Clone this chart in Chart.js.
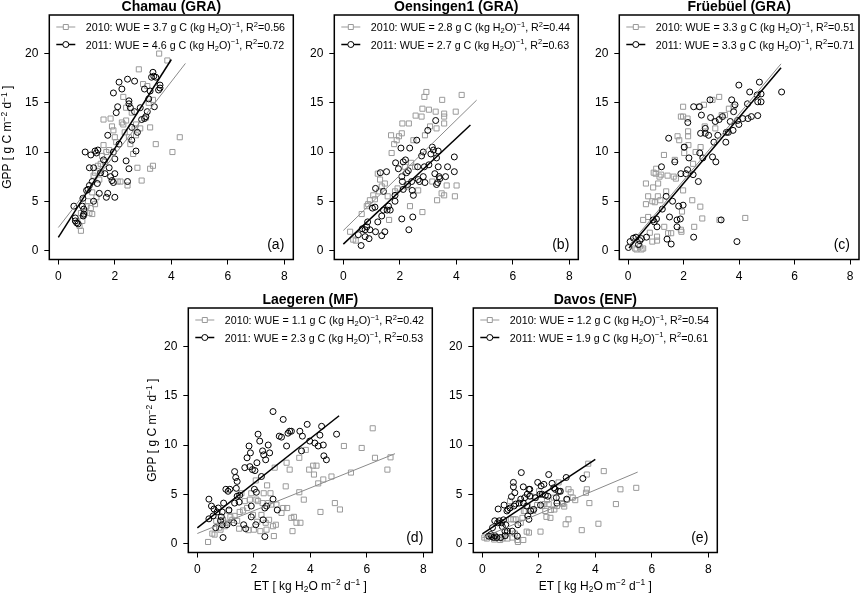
<!DOCTYPE html>
<html>
<head>
<meta charset="utf-8">
<script src="https://cdn.jsdelivr.net/npm/chart.js@4.4.0/dist/chart.umd.min.js"></script>
<style>
  body { margin: 0; background: #fff; width: 864px; height: 595px; position: relative; overflow: hidden; }
  canvas { position: absolute; }
</style>
</head>
<body>
<canvas id="p0"></canvas>
<canvas id="p1"></canvas>
<canvas id="p2"></canvas>
<canvas id="p3"></canvas>
<canvas id="p4"></canvas>
<script>
const FONT = '"Liberation Sans", Arial, Helvetica, sans-serif';

// axes
const xTicks = [0, 2, 4, 6, 8];
const yTicks = [0, 5, 10, 15, 20];

// panel labels and regression stats
const sites = ["Chamau (GRA)", "Oensingen1 (GRA)", "Früebüel (GRA)", "Laegeren (MF)", "Davos (ENF)"];
const letters = ["(a)", "(b)", "(c)", "(d)", "(e)"];
const wue2010 = ["3.7", "2.8", "3.3", "1.1", "1.2"];
const wue2011 = ["4.6", "2.7", "3.3", "2.3", "1.9"];
const r2010 = ["0.56", "0.44", "0.51", "0.42", "0.54"];
const r2011 = ["0.72", "0.63", "0.71", "0.53", "0.61"];

// fitted lines: [ET start, GPP start, ET end, GPP end]
const fit2010 = [[0, 2.33, 4.5, 19.0], [0, 2.03, 4.72, 15.27], [0.03, 0.5, 5.51, 18.96], [0, 1.01, 7.0, 9.12], [0, 0.58, 5.5, 7.25]];
const fit2011 = [[0, 1.32, 4.0, 19.4], [0, 0.64, 4.5, 12.74], [0.03, 0.25, 5.51, 18.55], [0, 1.59, 5.02, 12.97], [0, 0.98, 4.0, 8.54]];

// daily ET / GPP pairs
const chamau2010 = [[0.8,2.0],[0.75,2.5],[0.85,3.0],[0.8,3.8],[0.9,3.6],[0.95,3.9],[1.0,4.5],[1.05,5.0],[1.1,3.8],[1.15,4.3],[1.2,3.7],[1.2,5.9],[1.25,7.6],[1.3,7.9],[1.3,4.7],[1.35,5.4],[1.4,8.6],[1.45,7.2],[1.5,8.8],[1.55,9.6],[1.6,10.7],[1.6,13.3],[1.65,9.0],[1.7,10.0],[1.8,10.2],[1.85,13.4],[1.9,12.6],[1.95,12.2],[2.0,11.5],[2.05,11.0],[2.1,7.0],[2.2,7.0],[2.25,13.0],[2.3,15.6],[2.3,12.8],[2.35,12.0],[2.4,14.5],[2.4,13.2],[2.45,6.6],[2.5,11.5],[2.55,10.8],[2.6,14.0],[2.65,9.8],[2.7,12.4],[2.75,12.8],[2.75,11.7],[2.8,8.4],[2.85,18.4],[2.9,12.4],[2.95,7.1],[3.0,16.9],[3.1,13.5],[3.15,16.7],[3.2,15.0],[3.25,12.5],[3.25,8.3],[3.35,8.6],[3.35,15.3],[3.45,10.8],[3.57,20.0],[3.86,19.3],[4.04,10.0],[4.3,11.5]];
const chamau2011 = [[0.55,4.5],[0.6,3.0],[0.65,2.8],[0.6,3.3],[0.7,2.7],[0.85,4.5],[0.9,4.2],[0.9,3.7],[0.88,3.5],[0.87,5.3],[0.95,10.0],[1.05,6.2],[1.0,6.1],[1.1,6.6],[1.1,8.4],[1.15,9.7],[1.2,7.0],[1.25,5.0],[1.25,8.4],[1.3,10.1],[1.35,9.9],[1.4,10.2],[1.38,6.8],[1.45,5.8],[1.5,7.9],[1.6,9.2],[1.65,7.8],[1.7,5.4],[1.75,11.7],[1.75,5.8],[1.8,8.4],[1.85,7.5],[1.9,7.1],[1.95,6.9],[1.95,10.0],[2.0,7.8],[2.0,9.3],[1.95,16.0],[2.0,5.4],[2.1,14.6],[2.05,14.0],[2.15,10.8],[2.15,17.1],[2.25,16.4],[2.4,9.1],[2.5,8.3],[2.45,7.0],[2.45,17.4],[2.5,15.2],[2.5,14.9],[2.55,14.5],[2.6,12.5],[2.6,11.2],[2.7,17.2],[2.7,14.1],[2.75,10.1],[2.8,12.0],[2.9,14.5],[2.95,13.3],[3.05,16.4],[3.05,13.4],[3.1,13.6],[3.15,14.1],[3.2,15.4],[3.25,16.2],[3.3,17.6],[3.35,18.1],[3.38,17.7],[3.4,14.6],[3.45,17.6],[3.55,16.3],[3.6,16.8],[3.6,16.5]];

const oens2010 = [[0.24,1.9],[0.35,1.1],[0.44,1.0],[0.65,3.7],[0.83,4.5],[0.88,4.7],[0.94,5.1],[1.06,5.6],[1.12,5.2],[1.22,7.8],[1.3,7.2],[1.27,6.0],[1.36,6.5],[1.47,6.8],[1.57,5.5],[1.62,3.1],[1.69,11.7],[1.71,9.9],[1.8,10.8],[1.83,6.0],[1.89,11.2],[1.92,6.3],[1.97,11.6],[2.07,11.9],[2.09,12.9],[2.18,8.5],[2.24,6.5],[2.32,12.9],[2.36,4.5],[2.4,8.9],[2.48,11.2],[2.56,13.7],[2.54,8.5],[2.65,6.1],[2.77,13.6],[2.8,14.4],[2.87,15.6],[2.8,3.9],[2.89,11.7],[2.94,16.1],[3.03,14.3],[3.07,12.6],[3.15,7.0],[3.27,14.1],[3.3,12.4],[3.32,5.1],[3.48,5.8],[3.5,15.3],[3.57,13.9],[3.57,13.6],[3.57,12.9],[3.57,5.6],[3.66,6.6],[3.98,14.1],[3.95,5.5],[4.01,6.6],[4.19,15.8]];
const oens2011 = [[0.63,0.5],[0.53,1.6],[0.67,2.2],[0.77,2.1],[0.83,2.4],[0.86,2.9],[0.94,2.1],[0.91,1.2],[0.77,1.4],[1.03,4.3],[1.12,4.4],[1.14,6.3],[1.22,2.9],[1.14,1.9],[1.36,1.5],[1.47,1.9],[1.36,3.5],[1.42,4.1],[1.55,4.1],[1.6,4.5],[1.66,4.1],[1.31,7.9],[1.53,8.0],[1.42,6.0],[1.83,5.6],[1.83,5.0],[1.85,8.9],[1.95,8.3],[2.04,10.4],[2.07,7.5],[2.09,7.0],[2.12,6.2],[2.07,3.2],[2.12,9.0],[2.2,9.2],[2.24,7.9],[2.28,6.7],[2.3,8.1],[2.35,10.4],[2.32,2.1],[2.42,7.0],[2.44,6.1],[2.46,3.4],[2.48,5.6],[2.6,11.2],[2.63,8.5],[2.65,7.2],[2.7,7.0],[2.77,9.6],[2.83,10.0],[2.87,8.5],[2.83,7.5],[2.89,6.9],[2.99,12.2],[3.03,8.7],[3.1,9.8],[3.15,10.5],[3.19,10.2],[3.24,7.8],[3.27,13.2],[3.3,9.4],[3.34,6.9],[3.36,8.5],[3.39,7.5],[3.42,7.3],[3.36,10.1],[3.69,8.5],[3.62,7.5],[3.93,9.5],[3.93,8.0],[3.3,6.7]];

const frue2010 = [[0.25,0.2],[0.3,0.1],[0.42,0.4],[0.48,0.1],[0.54,0.2],[0.54,3.1],[0.64,4.7],[0.64,6.8],[0.72,5.5],[0.72,3.4],[0.78,1.8],[0.87,0.9],[0.87,5.0],[0.9,6.4],[0.92,7.9],[0.96,4.9],[0.99,7.8],[1.01,8.3],[1.04,1.4],[1.04,1.0],[1.07,5.5],[1.08,6.8],[1.13,7.5],[1.16,5.1],[1.19,7.7],[1.29,9.7],[1.3,2.4],[1.37,6.0],[1.42,7.6],[1.44,1.75],[1.55,1.75],[1.64,7.5],[1.68,9.2],[1.72,7.3],[1.78,11.6],[1.84,11.2],[1.9,13.6],[1.9,2.1],[1.92,1.9],[1.94,3.95],[1.98,13.6],[1.98,14.6],[1.98,6.1],[2.02,10.5],[2.02,9.9],[2.14,13.4],[2.16,12.1],[2.16,11.6],[2.17,10.7],[2.31,5.1],[2.34,8.8],[2.38,2.4],[2.43,10.0],[2.55,14.6],[2.6,4.45],[2.61,10.5],[2.67,3.25],[2.73,14.8],[2.76,12.6],[3.04,15.3],[3.14,12.4],[3.28,15.6],[3.29,3.1],[3.37,13.75],[3.49,13.75],[3.63,14.4],[3.8,14.6],[4.22,3.3]];
const frue2011 = [[0.01,0.3],[0.07,0.9],[0.19,1.25],[0.28,1.35],[0.37,0.6],[0.42,1.0],[0.48,1.2],[0.66,1.35],[0.9,3.1],[0.94,2.9],[1.04,2.4],[1.02,3.2],[1.2,8.5],[1.23,4.2],[1.37,5.5],[1.4,1.15],[1.46,11.4],[1.49,3.4],[1.55,0.65],[1.6,5.0],[1.68,9.0],[1.76,2.4],[1.76,3.1],[1.82,4.5],[1.88,3.2],[1.9,7.8],[1.98,4.6],[2.02,10.5],[2.08,7.8],[2.14,8.2],[2.15,13.0],[2.19,9.4],[2.34,7.7],[2.36,14.6],[2.36,1.35],[2.53,7.0],[2.57,14.6],[2.58,9.9],[2.61,11.9],[2.64,13.75],[2.69,9.4],[2.78,12.4],[2.78,11.9],[2.9,11.7],[2.95,15.3],[2.97,13.5],[3.04,9.5],[3.09,11.0],[3.14,13.1],[3.16,9.0],[3.23,11.7],[3.28,13.3],[3.35,3.1],[3.4,13.6],[3.52,11.0],[3.54,12.0],[3.61,12.0],[3.68,13.1],[3.73,15.3],[3.78,12.2],[3.8,14.1],[3.85,14.8],[3.92,0.9],[3.94,13.2],[3.99,16.8],[3.99,12.8],[4.13,13.4],[4.32,13.4],[4.3,14.9],[4.38,16.1],[4.44,13.6],[4.65,15.8],[4.67,13.7],[4.67,15.1],[4.73,17.1],[4.79,15.1],[4.79,15.9],[5.53,16.1]];

const laeg2010 = [[0.38,0.15],[0.53,1.0],[0.61,0.9],[0.67,2.3],[0.77,1.6],[0.82,1.4],[0.91,2.4],[0.97,1.75],[1.03,2.1],[1.12,3.3],[1.17,2.7],[1.24,2.4],[1.32,2.8],[1.41,2.3],[1.48,1.5],[1.5,3.2],[1.56,5.1],[1.62,3.35],[1.68,4.3],[1.76,3.6],[1.81,1.35],[1.86,4.45],[1.91,5.1],[1.97,2.9],[2.0,1.4],[2.07,6.4],[2.09,4.45],[2.12,2.2],[2.15,4.3],[2.23,1.25],[2.27,2.9],[2.31,4.1],[2.35,5.1],[2.42,2.1],[2.45,1.4],[2.47,5.9],[2.51,4.1],[2.54,2.4],[2.59,5.1],[2.62,3.95],[2.68,1.75],[2.71,0.75],[2.74,7.7],[2.78,1.9],[2.8,3.95],[2.98,3.1],[3.04,3.6],[3.13,5.8],[3.16,8.2],[3.18,3.6],[3.27,7.5],[3.33,2.6],[3.37,1.25],[3.42,2.7],[3.51,2.1],[3.61,5.2],[3.61,8.7],[3.65,2.1],[3.77,4.45],[3.84,9.5],[3.96,7.5],[4.1,7.9],[4.13,7.0],[4.22,7.9],[4.28,6.1],[4.36,3.2],[4.46,6.5],[4.75,6.8],[4.87,4.1],[5.05,3.45],[5.19,9.9],[5.44,7.2],[5.82,9.7],[6.21,11.7],[6.29,8.7],[6.73,7.5],[6.84,8.75]];
const laeg2011 = [[0.41,4.5],[0.41,2.5],[0.5,3.8],[0.56,2.8],[0.59,3.5],[0.65,1.6],[0.7,3.2],[0.74,3.6],[0.82,2.3],[0.85,2.7],[0.88,3.2],[0.88,1.9],[0.91,0.6],[0.93,4.1],[1.01,5.5],[1.05,1.9],[1.09,5.3],[1.12,3.4],[1.15,5.5],[1.29,2.1],[1.32,7.3],[1.32,4.1],[1.36,6.7],[1.38,5.6],[1.41,6.3],[1.41,4.8],[1.48,4.2],[1.5,4.9],[1.64,1.9],[1.68,7.7],[1.71,1.5],[1.76,8.7],[1.83,9.9],[1.86,7.8],[1.88,9.2],[1.91,2.7],[1.91,3.8],[1.95,7.5],[2.02,5.5],[2.04,7.4],[2.07,1.9],[2.09,5.2],[2.11,8.2],[2.15,11.1],[2.21,10.4],[2.27,6.8],[2.31,9.4],[2.33,2.4],[2.35,9.0],[2.39,3.6],[2.39,0.7],[2.42,8.5],[2.45,3.8],[2.51,10.0],[2.56,9.2],[2.68,13.4],[2.68,4.5],[2.83,3.4],[2.9,10.9],[2.98,10.8],[3.04,12.6],[3.16,9.9],[3.21,11.2],[3.27,11.4],[3.33,11.4],[3.63,11.4],[3.69,9.4],[3.72,10.9],[3.89,12.1],[3.98,10.4],[4.16,10.2],[4.28,9.9],[4.34,11.0],[4.4,11.9],[4.46,10.0],[4.48,8.9],[4.57,8.5],[4.93,11.1]];

const davos2010 = [[0.07,0.6],[0.16,0.5],[0.25,0.7],[0.36,0.75],[0.42,0.4],[0.6,0.6],[0.63,0.35],[0.71,0.5],[0.8,0.75],[0.87,1.1],[0.89,0.5],[0.98,4.3],[1.01,2.45],[1.06,0.6],[1.1,2.45],[1.15,1.0],[1.18,2.45],[1.24,0.35],[1.26,0.15],[1.36,2.1],[1.42,2.6],[1.45,0.35],[1.47,3.3],[1.53,3.3],[1.57,1.2],[1.61,3.8],[1.65,1.1],[1.71,4.8],[1.73,3.45],[1.8,3.3],[1.88,4.65],[1.94,3.9],[2.01,5.3],[2.06,1.2],[2.12,3.8],[2.2,4.0],[2.23,3.3],[2.27,2.7],[2.29,4.4],[2.35,4.0],[2.41,2.6],[2.43,3.4],[2.53,4.65],[2.55,3.45],[2.64,3.8],[2.7,6.2],[2.76,5.3],[2.82,4.1],[2.85,4.0],[2.9,3.75],[2.95,1.95],[2.99,4.45],[3.05,2.45],[3.05,5.5],[3.13,5.2],[3.2,4.65],[3.29,4.4],[3.52,1.35],[3.67,5.15],[3.7,5.5],[3.7,7.0],[3.75,8.1],[3.79,4.1],[4.11,2.0],[4.3,7.35],[4.73,4.0],[4.89,5.5],[5.45,5.65]];
const davos2011 = [[0.22,0.75],[0.3,0.9],[0.33,0.7],[0.36,1.6],[0.4,0.6],[0.44,2.3],[0.44,0.8],[0.51,0.6],[0.54,2.1],[0.56,3.5],[0.6,2.3],[0.65,0.6],[0.68,2.1],[0.71,1.7],[0.75,2.4],[0.77,3.9],[0.8,1.25],[0.81,0.8],[0.83,1.9],[0.87,3.3],[0.89,1.25],[0.91,3.45],[0.98,3.6],[1.03,4.75],[1.06,1.25],[1.1,6.2],[1.1,5.75],[1.12,3.8],[1.15,5.15],[1.18,4.0],[1.24,0.75],[1.26,1.9],[1.3,4.1],[1.36,4.5],[1.38,7.2],[1.45,5.75],[1.45,4.1],[1.5,4.65],[1.57,3.8],[1.59,5.0],[1.61,2.8],[1.65,5.5],[1.65,2.45],[1.68,4.8],[1.68,5.5],[1.71,3.3],[1.82,3.45],[1.88,4.65],[1.96,6.2],[2.04,5.0],[2.06,3.9],[2.08,5.85],[2.12,5.0],[2.18,6.0],[2.23,4.9],[2.32,4.8],[2.35,7.0],[2.47,6.1],[2.53,5.65],[2.58,5.5],[2.62,4.65],[2.64,4.1],[2.7,5.3],[2.76,5.3],[2.97,6.7],[2.99,4.5],[3.56,6.6]];

const series2010 = [chamau2010, oens2010, frue2010, laeg2010, davos2010];
const series2011 = [chamau2011, oens2011, frue2011, laeg2011, davos2011];

// canvas placement: left, top, width, height, y-label, x-label
const panels = [
  { left: 0,     top: 0,   w: 300, h: 290, ylab: 7,  xlab: false },
  { left: 285,   top: 0,   w: 300, h: 290, ylab: 0,  xlab: false },
  { left: 570,   top: 0,   w: 294, h: 290, ylab: 0,  xlab: false },
  { left: 139.2, top: 293, w: 300, h: 302, ylab: 13, xlab: true },
  { left: 423.7, top: 293, w: 300, h: 302, ylab: 0,  xlab: true }
];
const Y_AXIS_W = 49.3;
const BOX_W = 244;

function drawRich(ctx, parts, x, y, size, align) {
  let w = 0;
  parts.forEach(p => {
    ctx.font = (p[1] ? size * 0.7 : size) + "px " + FONT;
    w += ctx.measureText(p[0]).width;
  });
  let cx = align === "center" ? x - w / 2 : x;
  ctx.textAlign = "left";
  ctx.textBaseline = "alphabetic";
  parts.forEach(p => {
    const s = p[1] ? size * 0.7 : size;
    ctx.font = s + "px " + FONT;
    const dy = p[1] === 1 ? -size * 0.4 : p[1] === -1 ? size * 0.22 : 0;
    ctx.fillText(p[0], cx, y + dy);
    cx += ctx.measureText(p[0]).width;
  });
}

function legendParts(year, wue, r2) {
  return [[year + ": WUE = " + wue + " g C (kg H", 0], ["2", -1], ["O)", 0], ["\u22121", 1], [", R", 0], ["2", 1], ["=" + r2, 0]];
}

function decor(i, cfg) {
  return {
    id: "decor" + i,
    afterDraw(chart) {
      const ctx = chart.ctx;
      const a = chart.chartArea;
      ctx.save();
      ctx.fillStyle = "#000";

      // title
      ctx.font = "bold 14px " + FONT;
      ctx.textAlign = "center";
      ctx.textBaseline = "middle";
      ctx.fillText(sites[i], (a.left + a.right) / 2, a.top - 8);

      // panel letter
      ctx.font = "14px " + FONT;
      ctx.textAlign = "right";
      ctx.fillText(letters[i], a.right - 9, a.bottom - 14);

      // legend
      const rows = [
        { y: a.top + 12, color: "#999", lw: 1, sq: true, parts: legendParts("2010", wue2010[i], r2010[i]) },
        { y: a.top + 29.5, color: "#000", lw: 1.5, sq: false, parts: legendParts("2011", wue2011[i], r2011[i]) }
      ];
      rows.forEach(r => {
        ctx.strokeStyle = r.color;
        ctx.lineWidth = r.lw;
        ctx.beginPath();
        ctx.moveTo(a.left + 7, r.y);
        ctx.lineTo(a.left + 26, r.y);
        ctx.stroke();
        ctx.fillStyle = "#fff";
        ctx.lineWidth = 1;
        ctx.beginPath();
        if (r.sq) ctx.rect(a.left + 14, r.y - 2.5, 5, 5);
        else ctx.arc(a.left + 16.5, r.y, 3, 0, Math.PI * 2);
        ctx.fill();
        ctx.stroke();
        ctx.fillStyle = "#000";
        drawRich(ctx, r.parts, a.left + 36.5, r.y + 4, 10.7, "left");
      });

      // axis labels
      if (cfg.ylab) {
        ctx.save();
        ctx.translate(cfg.ylab, (a.top + a.bottom) / 2);
        ctx.rotate(-Math.PI / 2);
        drawRich(ctx, [["GPP [ g C m", 0], ["\u22122", 1], [" d", 0], ["\u22121", 1], [" ]", 0]], 0, 4.3, 12, "center");
        ctx.restore();
      }
      if (cfg.xlab) {
        drawRich(ctx, [["ET [ kg H", 0], ["2", -1], ["O m", 0], ["\u22122", 1], [" d", 0], ["\u22121", 1], [" ]", 0]],
          (a.left + a.right) / 2, a.bottom + 37, 12, "center");
      }

      // box
      ctx.strokeStyle = "#000";
      ctx.lineWidth = 1.5;
      ctx.strokeRect(a.left, a.top, a.right - a.left, a.bottom - a.top);
      ctx.restore();
    }
  };
}

function pts(arr) { return arr.map(p => ({ x: p[0], y: p[1] })); }
function fitLine(f) { return [{ x: f[0], y: f[1] }, { x: f[2], y: f[3] }]; }

panels.forEach((cfg, i) => {
  const canvas = document.getElementById("p" + i);
  canvas.width = cfg.w;
  canvas.height = cfg.h;
  canvas.style.left = cfg.left + "px";
  canvas.style.top = cfg.top + "px";
  const xAxisH = cfg.h - 15 - 244.5;
  const padRight = cfg.w - Y_AXIS_W - BOX_W;

  new Chart(canvas, {
    type: "scatter",
    data: {
      datasets: [
        { data: fitLine(fit2011[i]), showLine: true, borderColor: "#000", borderWidth: 1.5, pointRadius: 0 },
        { data: fitLine(fit2010[i]), showLine: true, borderColor: "#8a8a8a", borderWidth: 1, pointRadius: 0 },
        { data: pts(series2011[i]), pointStyle: "circle", pointRadius: 3, borderColor: "#000", borderWidth: 1, backgroundColor: "rgba(0,0,0,0)" },
        { data: pts(series2010[i]), pointStyle: "rect", pointRadius: 3.6, borderColor: "#9a9a9a", borderWidth: 1, backgroundColor: "rgba(0,0,0,0)" }
      ]
    },
    options: {
      animation: false,
      responsive: false,
      events: [],
      layout: { padding: { top: 15, right: padRight, left: 0, bottom: 0 } },
      plugins: { legend: { display: false }, tooltip: { enabled: false } },
      scales: {
        x: {
          type: "linear",
          min: -0.32,
          max: 8.32,
          afterBuildTicks: s => { s.ticks = xTicks.map(v => ({ value: v })); },
          afterFit: s => { s.height = xAxisH; },
          grid: { display: true, drawOnChartArea: false, tickLength: 5, color: "#000", lineWidth: 1 },
          border: { display: false },
          ticks: { color: "#000", font: { family: FONT, size: 12 }, padding: 5, maxRotation: 0, autoSkip: false }
        },
        y: {
          type: "linear",
          min: -0.92,
          max: 23.92,
          afterBuildTicks: s => { s.ticks = yTicks.map(v => ({ value: v })); },
          afterFit: s => { s.width = Y_AXIS_W; },
          grid: { display: true, drawOnChartArea: false, tickLength: 5, color: "#000", lineWidth: 1 },
          border: { display: false },
          ticks: { color: "#000", font: { family: FONT, size: 12 }, padding: 6, autoSkip: false }
        }
      }
    },
    plugins: [decor(i, cfg)]
  });
});
</script>
</body>
</html>
